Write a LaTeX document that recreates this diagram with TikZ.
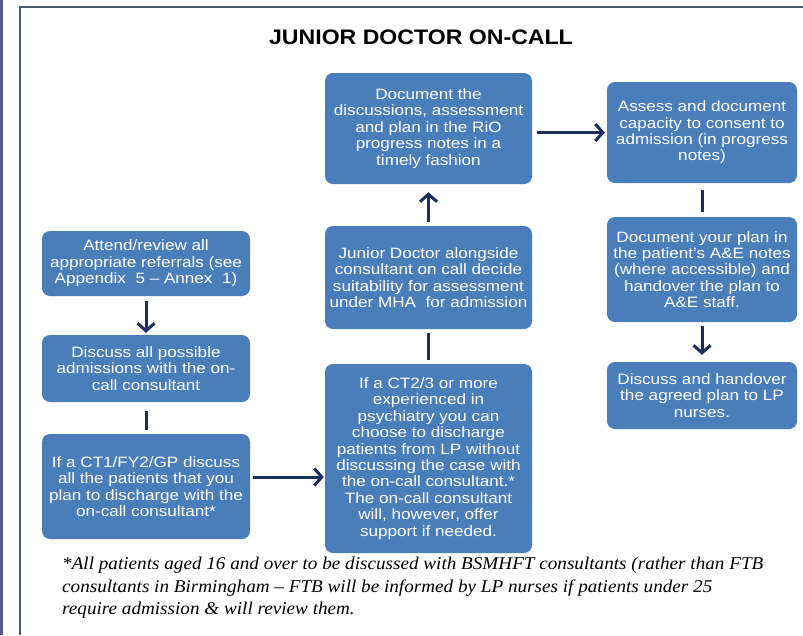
\documentclass[tikz,border=0pt]{standalone}
\usepackage{fontspec}
\setmainfont{Liberation Sans}
\newfontfamily\boxfont[FakeStretch=1.14]{Liberation Sans}
\newfontfamily\headfont[FakeStretch=1.1]{Liberation Sans}
\newfontfamily\notefont[FakeStretch=1.064]{Liberation Serif}
\usetikzlibrary{arrows.meta}

\definecolor{boxblue}{HTML}{4A7EBB}
\definecolor{navy}{HTML}{1B2F5E}
\definecolor{framegray}{HTML}{4A5868}
\definecolor{edgestrip}{HTML}{55598A}

\tikzset{
  flowbox/.style={draw=none, fill=boxblue, rounded corners=8pt, text=white,
    align=center, inner sep=2pt,
    font=\boxfont\fontsize{15}{16.4}\selectfont},
  arr/.style={draw=navy, line width=3pt,
    -{Straight Barb[length=7.5pt,width=17pt]}},
  link/.style={draw=navy, line width=3pt},
}

\begin{document}
\begin{tikzpicture}[x=1pt, y=-1pt]
  \useasboundingbox (0,0) rectangle (803,635);
  \fill[white] (0,0) rectangle (803,635);

  % page edge and frame
  \fill[edgestrip] (0,0) rectangle (3,635);
  \draw[framegray, line width=2.5pt] (20,635) -- (20,7) -- (803,7);

  % heading
  \node[font=\headfont\bfseries\fontsize{21}{24}\selectfont] (title) at (421,37.5)
    {JUNIOR DOCTOR ON-CALL};

  % left column
  \node[flowbox, minimum width=208pt, minimum height=65pt] (attend) at (146,263.5)
    {Attend/review all\\appropriate referrals (see\\Appendix~ 5 – Annex~ 1)};
  \node[flowbox, minimum width=208pt, minimum height=67pt] (discuss) at (146,368.5)
    {Discuss all possible\\admissions with the on-\\call consultant};
  \node[flowbox, minimum width=208pt, minimum height=105pt] (ct1) at (146,486.5)
    {If a CT1/FY2/GP discuss\\all the patients that you\\plan to discharge with the\\on-call consultant*};

  % middle column
  \node[flowbox, minimum width=207pt, minimum height=111pt] (doc) at (428.5,128.5)
    {Document the\\discussions, assessment\\and plan in the RiO\\progress notes in a\\timely fashion};
  \node[flowbox, minimum width=207pt, minimum height=103pt] (junior) at (428.5,277.5)
    {Junior Doctor alongside\\consultant on call decide\\suitability for assessment\\under MHA~ for admission};
  \node[flowbox, minimum width=207pt, minimum height=189pt] (ct23) at (428.5,458.5)
    {If a CT2/3 or more\\experienced in\\psychiatry you can\\choose to discharge\\patients from LP without\\discussing the case with\\the on-call consultant.*\\The on-call consultant\\will, however, offer\\support if needed.};

  % right column
  \node[flowbox, minimum width=190pt, minimum height=101pt] (assess) at (702,132.5)
    {Assess and document\\capacity to consent to\\admission (in progress\\notes)};
  \node[flowbox, minimum width=190pt, minimum height=105pt] (plan) at (702,269.5)
    {Document your plan in\\the patient’s A\&E notes\\(where accessible) and\\handover the plan to\\A\&E staff.};
  \node[flowbox, minimum width=190pt, minimum height=67pt] (handover) at (702,395.5)
    {Discuss and handover\\the agreed plan to LP\\nurses.};

  % connectors
  \draw[arr, shorten <=5pt, shorten >=2pt] (attend.south) -- (discuss.north);
  \draw[link, shorten <=9pt, shorten >=4pt] (discuss.south) -- (ct1.north);
  \coordinate (ct1out) at ([yshift=9.5pt]ct1.east);
  \draw[arr, shorten <=3pt, shorten >=1pt] (ct1out) -- (ct1out -| ct23.west);
  \draw[link, shorten <=4pt, shorten >=4pt] (ct23.north) -- (junior.south);
  \draw[arr, shorten <=4pt, shorten >=8pt] (junior.north) -- (doc.south);
  \draw[arr, shorten <=5pt, shorten >=2pt] (doc.east |- assess.west) -- (assess.west);
  \draw[link, shorten <=7pt, shorten >=5pt] (assess.south) -- (plan.north);
  \draw[arr, shorten <=4pt, shorten >=7pt] (plan.south) -- (handover.north);

  % footnote
  \node[anchor=west, align=left, inner sep=0pt,
        font=\notefont\itshape\fontsize{18}{22.5}\selectfont] (note) at (62,588)
    {*All patients aged 16 and over to be discussed with BSMHFT consultants (rather than FTB\\
     consultants in Birmingham – FTB will be informed by LP nurses if patients under 25\\
     require admission \& will review them.};
\end{tikzpicture}
\end{document}
